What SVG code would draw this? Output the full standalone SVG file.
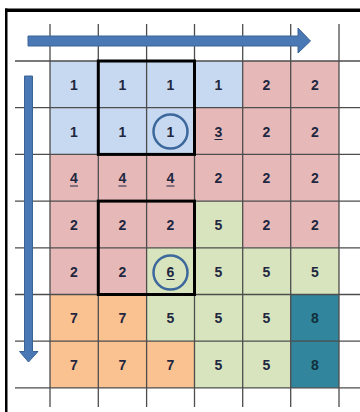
<svg xmlns="http://www.w3.org/2000/svg" width="360" height="412" viewBox="0 0 360 412">
  <style>
    .blue { fill: #c6d9f1; }
    .pink { fill: #e6b9b8; }
    .green { fill: #d7e4bd; }
    .orange { fill: #fac191; }
    .teal { fill: #31859c; }
    .grid { stroke: #4d4d4d; stroke-width: 1.3; fill: none; }
    .box { stroke: #000; stroke-width: 3; fill: none; }
    .ring { stroke: #3c689c; stroke-width: 2.5; fill: none; }
    .num { font-family: "Liberation Sans", Arial, sans-serif; font-weight: bold; font-size: 14px; fill: #1f2740; text-anchor: middle; }
    .ul { stroke: #1f2740; stroke-width: 1.2; }
    .arrow { fill: #4a78b4; stroke: #3a6496; stroke-width: 1; }
  </style>

  <rect width="360" height="412" fill="#fff"/>

  <!-- frame -->
  <rect x="5" y="8.5" width="355" height="3.5" fill="#000"/>
  <rect x="5" y="8.5" width="2.5" height="404" fill="#000"/>

  <!-- cell fills -->
  <g id="cells">
    <!-- row 1 -->
    <rect class="blue" x="50" y="61" width="193" height="46.7"/>
    <rect class="pink" x="243" y="61" width="96" height="46.7"/>
    <!-- row 2 -->
    <rect class="blue" x="50" y="107.7" width="145" height="46.7"/>
    <rect class="pink" x="194.5" y="107.7" width="144.5" height="46.7"/>
    <!-- row 3 -->
    <rect class="pink" x="50" y="154.4" width="289" height="46.7"/>
    <!-- row 4 -->
    <rect class="pink" x="50" y="201.1" width="289" height="46.7"/>
    <rect class="green" x="194.5" y="201.1" width="48.2" height="46.7"/>
    <!-- row 5 -->
    <rect class="pink" x="50" y="247.8" width="96.6" height="46.7"/>
    <rect class="green" x="146.6" y="247.8" width="192.4" height="46.7"/>
    <!-- row 6 -->
    <rect class="orange" x="50" y="294.5" width="96.6" height="46.7"/>
    <rect class="green" x="146.6" y="294.5" width="144.1" height="46.7"/>
    <rect class="teal" x="290.7" y="294.5" width="48.3" height="93.4"/>
    <!-- row 7 -->
    <rect class="orange" x="50" y="341.2" width="144.5" height="46.7"/>
    <rect class="green" x="194.5" y="341.2" width="96.2" height="46.7"/>
  </g>

  <!-- grid lines -->
  <g id="grid" class="grid">
    <path d="M50 24V407M98.3 24V407M146.6 24V407M194.5 24V407M242.7 24V407M290.7 24V407M339 24V407"/>
    <path d="M15 61H360M15 107.7H360M15 154.4H360M15 201.1H360M15 247.8H360M15 294.5H360M15 341.2H360M15 387.9H360"/>
  </g>

  <!-- highlighted blocks -->
  <g id="blocks">
    <rect class="box" x="98.3" y="61" width="96.2" height="93.4"/>
    <rect class="box" x="98.3" y="201.1" width="96.2" height="93.4"/>
  </g>

  <!-- direction arrows -->
  <g id="connectors">
    <path class="arrow" d="M28 36H298V28L310.5 41L298 53V46H28Z"/>
    <path class="arrow" d="M24.5 76H32.5V351.5H38L28.5 362L19.5 351.5H24.5Z"/>
  </g>

  <!-- markers -->
  <circle class="ring" cx="170.5" cy="131.5" r="17"/>
  <circle class="ring" cx="170.5" cy="272.5" r="17"/>

  <!-- numbers -->
  <g id="numbers" class="num">
    <text x="74" y="89.5">1</text><text x="122.5" y="89.5">1</text><text x="170.5" y="89.5">1</text><text x="218.5" y="89.5">1</text><text x="266.5" y="89.5">2</text><text x="315" y="89.5">2</text>
    <text x="74" y="136.5">1</text><text x="122.5" y="136.5">1</text><text x="170.5" y="136.5">1</text><text x="218.5" y="136.5">3</text><text x="266.5" y="136.5">2</text><text x="315" y="136.5">2</text>
    <text x="74" y="183">4</text><text x="122.5" y="183">4</text><text x="170.5" y="183">4</text><text x="218.5" y="183">2</text><text x="266.5" y="183">2</text><text x="315" y="183">2</text>
    <text x="74" y="229.5">2</text><text x="122.5" y="229.5">2</text><text x="170.5" y="229.5">2</text><text x="218.5" y="229.5">5</text><text x="266.5" y="229.5">2</text><text x="315" y="229.5">2</text>
    <text x="74" y="276.5">2</text><text x="122.5" y="276.5">2</text><text x="170.5" y="276.5">6</text><text x="218.5" y="276.5">5</text><text x="266.5" y="276.5">5</text><text x="315" y="276.5">5</text>
    <text x="74" y="323">7</text><text x="122.5" y="323">7</text><text x="170.5" y="323">5</text><text x="218.5" y="323">5</text><text x="266.5" y="323">5</text><text x="315" y="323" fill="#10303a">8</text>
    <text x="74" y="369.5">7</text><text x="122.5" y="369.5">7</text><text x="170.5" y="369.5">7</text><text x="218.5" y="369.5">5</text><text x="266.5" y="369.5">5</text><text x="315" y="369.5" fill="#10303a">8</text>
  </g>

  <!-- underlines -->
  <g id="underlines" class="ul">
    <path d="M214.5 139.5H222.5M70 186H78M118.5 186H126.5M166.5 186H174.5M166.5 279.5H174.5"/>
  </g>
</svg>
